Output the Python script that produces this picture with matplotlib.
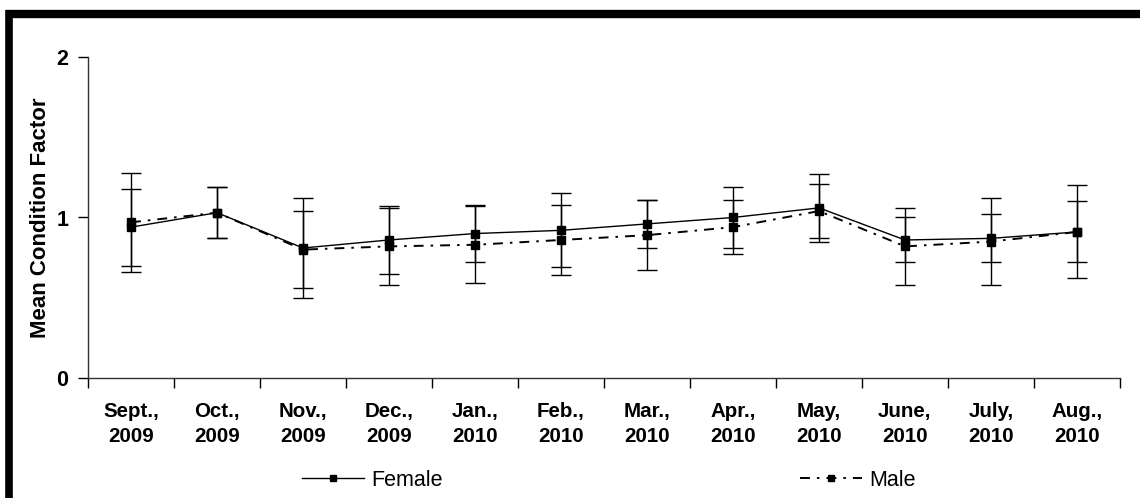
import matplotlib
matplotlib.use('Agg')
import matplotlib.pyplot as plt
from matplotlib import font_manager
from matplotlib.lines import Line2D
import numpy as np

plt.rcParams['font.family'] = ['Liberation Sans', 'DejaVu Sans']

# Monthly mean condition factor with standard deviations
months = ['Sept.,\n2009', 'Oct.,\n2009', 'Nov.,\n2009', 'Dec.,\n2009',
          'Jan.,\n2010', 'Feb.,\n2010', 'Mar.,\n2010', 'Apr.,\n2010',
          'May,\n2010', 'June,\n2010', 'July,\n2010', 'Aug.,\n2010']
female_mean = [0.94, 1.03, 0.81, 0.86, 0.90, 0.92, 0.96, 1.00, 1.06, 0.86, 0.87, 0.91]
female_sd = [0.24, 0.16, 0.31, 0.21, 0.18, 0.23, 0.15, 0.19, 0.21, 0.14, 0.15, 0.19]
male_mean = [0.97, 1.03, 0.80, 0.82, 0.83, 0.86, 0.89, 0.94, 1.04, 0.82, 0.85, 0.91]
male_sd = [0.31, 0.16, 0.24, 0.24, 0.24, 0.22, 0.22, 0.17, 0.17, 0.24, 0.27, 0.29]

male_dashes = (5.1, 3.6, 1.3, 3.6)
x = np.arange(len(months)) + 0.5

# narrow face for the month labels if it is installed
installed = {f.name for f in font_manager.fontManager.ttflist}
if 'Liberation Sans Narrow' in installed:
    month_font = dict(family='Liberation Sans Narrow', fontsize=16.5)
else:
    month_font = dict(family='Liberation Sans', fontsize=14.8)

fig = plt.figure(figsize=(11.4, 4.98), dpi=100)
ax = fig.add_axes([88 / 1140, 1 - 378 / 498, 1032 / 1140, 321 / 498])

ax.errorbar(x, female_mean, yerr=female_sd, color='black', lw=1.0,
            marker='s', ms=5.8, capsize=7, elinewidth=1.0, capthick=1.0,
            zorder=3)
ax.errorbar(x, male_mean, yerr=male_sd, color='black', lw=1.4,
            dashes=male_dashes, marker='s', ms=5.8, capsize=7,
            elinewidth=1.0, capthick=1.0, zorder=3)

ax.set_xlim(0, len(months))
ax.set_ylim(0, 2)
ax.set_yticks([0, 1, 2])
ax.set_yticklabels(['0', '1', '2'], fontsize=15.5, fontweight='bold')
ax.tick_params(axis='y', direction='out', length=7, width=1, pad=7)

ax.set_xticks(np.arange(len(months) + 1))
ax.set_xticklabels([])
ax.set_xticks(x, minor=True)
ax.set_xticklabels(months, minor=True, fontweight='bold', linespacing=1.45,
                   **month_font)
ax.tick_params(axis='x', which='major', direction='out', length=7, width=1)
ax.tick_params(axis='x', which='minor', length=0, pad=17)

for side in ['top', 'right']:
    ax.spines[side].set_visible(False)
for side in ['left', 'bottom']:
    ax.spines[side].set_linewidth(1)
    ax.spines[side].set_color('#333333')

ax.set_ylabel('Mean Condition Factor', fontsize=16, fontweight='bold',
              labelpad=4)

handles = [Line2D([], [], color='black', lw=1.0, marker='s', ms=5),
           Line2D([], [], color='black', lw=1.4, dashes=male_dashes,
                  marker='s', ms=5)]
fig.legend(handles, ['Female', 'Male'], loc='center',
           bbox_to_anchor=(0.534, 1 - 480 / 498), ncol=2, frameon=False,
           fontsize=15.5, handlelength=2.9, handletextpad=0.33,
           columnspacing=16.6)

# thick black frame along the top and left edges
fig.add_artist(Line2D([5.5 / 1140, 1], [1 - 14 / 498, 1 - 14 / 498],
                      color='black', lw=6, solid_capstyle='butt',
                      transform=fig.transFigure))
fig.add_artist(Line2D([9.3 / 1140, 9.3 / 1140], [0, 1 - 10 / 498],
                      color='black', lw=5.5, solid_capstyle='butt',
                      transform=fig.transFigure))

fig.savefig('out.png', dpi=100)
